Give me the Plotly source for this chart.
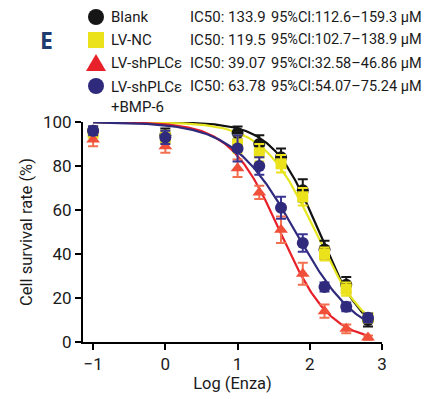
import numpy as np
import plotly.graph_objects as go

# ---- data ----
log_conc = [-1, 0, 1, 1.301, 1.602, 1.903, 2.204, 2.505, 2.806]
groups = ["Blank", "LV-NC", "LV-shPLCε", "LV-shPLCε<br>+BMP-6"]
blank = [96, 94, 95, 90, 84, 69, 42, 26, 10]
blank_err = [2, 3, 3, 4, 4, 5, 4, 3.5, 3]
lvnc = [95, 93, 90, 86, 81, 66, 40, 24, 11]
lvnc_err = [2, 3, 4, 4, 4, 4, 3, 3, 2]
shplc = [92, 89, 79, 68, 51, 31, 14, 6, 2]
shplc_err = [3, 3, 4, 3, 6, 5, 3, 2, 1]
bmp6 = [96, 93, 88, 80, 61, 45, 25, 16, 11]
bmp6_err = [2, 3, 6, 4, 5, 4, 2, 2, 2]
ic50 = [133.9, 119.5, 39.07, 63.78]
ci_low = [112.6, 102.7, 32.58, 54.07]
ci_high = [159.3, 138.9, 46.86, 75.24]
hill = [1.35, 1.2, 1.25, 1.0]
x_ticks = [-1, 0, 1, 2, 3]
y_ticks = [0, 20, 40, 60, 80, 100]

line_colors = ["#111111", "#e6e620", "#e8202a", "#2f2a7c"]
marker_colors = ["#161616", "#ece21c", "#f0503a", "#2f2a7c"]
err_colors = ["#161616", "#ece21c", "#f27050", "#3a3592"]
symbols = ["circle", "square", "triangle-up", "circle"]

FONT = "Roboto, Lato, sans-serif"

fig = go.Figure()
series = [(blank, blank_err), (lvnc, lvnc_err), (shplc, shplc_err), (bmp6, bmp6_err)]

xc = np.linspace(-1, 2.806, 200)
for i, (ys, es) in enumerate(series):
    yc = 100 / (1 + 10 ** ((xc - np.log10(ic50[i])) * hill[i]))
    fig.add_trace(go.Scatter(x=xc, y=yc, mode="lines",
                             line=dict(color=line_colors[i], width=2.2),
                             showlegend=False, hoverinfo="skip", cliponaxis=False))
for i, (ys, es) in enumerate(series):
    fig.add_trace(go.Scatter(x=log_conc, y=ys, mode="markers",
                             marker=dict(symbol=symbols[i], size=12 if symbols[i] != "square" else 11,
                                         color=marker_colors[i]),
                             error_y=dict(type="data", array=es, color=err_colors[i],
                                          thickness=2, width=5),
                             showlegend=False, cliponaxis=False))

# ---- legend (manual, three columns) ----
L, R, T, B = 83, 49, 122, 57
W, H = 431 - L - R, 399 - T - B

def px(x):
    return (x - L) / W

def py(y):
    return (399 - B - y) / H

rows_y = [17, 40, 63, 86]
for i in range(4):
    cy = rows_y[i]
    cx = 96
    if symbols[i] == "circle":
        fig.add_shape(type="circle", xref="paper", yref="paper",
                      x0=px(cx - 8), x1=px(cx + 8), y0=py(cy + 8), y1=py(cy - 8),
                      fillcolor=marker_colors[i], line=dict(width=0))
    elif symbols[i] == "square":
        fig.add_shape(type="rect", xref="paper", yref="paper",
                      x0=px(cx - 8), x1=px(cx + 8), y0=py(cy + 8), y1=py(cy - 8),
                      fillcolor=marker_colors[i], line=dict(width=0))
    else:
        path = "M {} {} L {} {} L {} {} Z".format(px(cx - 10), py(cy + 8), px(cx + 10), py(cy + 8),
                                                 px(cx), py(cy - 9))
        fig.add_shape(type="path", xref="paper", yref="paper", path=path,
                      fillcolor="#e8202a", line=dict(width=0))
    fig.add_annotation(xref="paper", yref="paper", x=px(109), y=py(cy), xanchor="left",
                       yanchor="middle" if i < 3 else "top",
                       yshift=0 if i < 3 else 10,
                       text=groups[i], showarrow=False,
                       font=dict(family=FONT, size=15, color="#1a1a1a"), align="left")
    fig.add_annotation(xref="paper", yref="paper", x=px(188), y=py(cy), xanchor="left",
                       yanchor="middle", text="IC50: {}".format(ic50[i]), showarrow=False,
                       font=dict(family=FONT, size=15, color="#1a1a1a"))
    fig.add_annotation(xref="paper", yref="paper", x=px(269), y=py(cy), xanchor="left",
                       yanchor="middle",
                       text="95%CI:{}–{} μM".format(ci_low[i], ci_high[i]), showarrow=False,
                       font=dict(family=FONT, size=14.5, color="#1a1a1a"))

fig.add_annotation(xref="paper", yref="paper", x=px(38), y=py(40), xanchor="left",
                   yanchor="middle", text="<b>E</b>", showarrow=False,
                   font=dict(family="Open Sans, sans-serif", size=23, color="#1f3c6e"))

fig.update_layout(
    width=431, height=399,
    margin=dict(l=L, r=R, t=T, b=B),
    paper_bgcolor="white", plot_bgcolor="white",
    font=dict(family=FONT, size=17, color="#1a1a1a"),
    xaxis=dict(range=[-1.14, 3.0], tickvals=x_ticks, ticktext=["−1", "0", "1", "2", "3"],
               showline=True, linecolor="black", linewidth=2, ticks="outside",
               ticklen=6, tickwidth=2, tickcolor="black", showgrid=False, zeroline=False,
               automargin=False,
               title=dict(text="Log (Enza)", font=dict(family=FONT, size=16.5), standoff=2),
               tickfont=dict(family=FONT, size=17)),
    yaxis=dict(range=[0, 100], tickvals=y_ticks,
               showline=True, linecolor="black", linewidth=2, ticks="outside",
               ticklen=6, tickwidth=2, tickcolor="black", showgrid=False, zeroline=False,
               automargin=False,
               title=dict(text="Cell survival rate (%)", font=dict(family=FONT, size=16.5), standoff=6),
               tickfont=dict(family=FONT, size=17)),
)

fig.write_html("out.html", config={"displayModeBar": False},
               post_script="document.body.style.margin='0';document.body.style.overflow='hidden';")
